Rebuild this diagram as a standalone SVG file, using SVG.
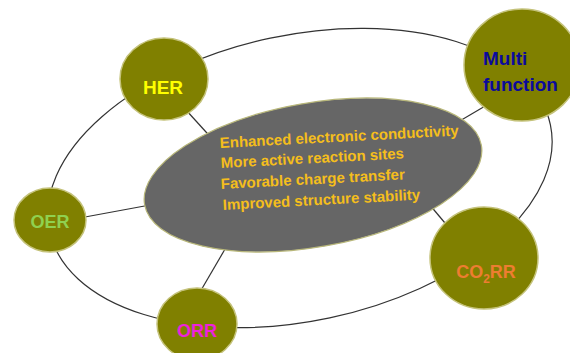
<svg xmlns="http://www.w3.org/2000/svg" width="570" height="353" viewBox="0 0 570 353">
<style>
.node{fill:#808000;stroke:#c4c27a;stroke-width:1.5}
.lbl{font-family:"Liberation Sans",Arial,sans-serif;font-weight:bold}
.line{stroke:#333;stroke-width:1.2;fill:none}
.mid{font-family:"Liberation Sans",Arial,sans-serif;font-weight:bold;font-size:15px;fill:#f5be1c}
</style>
<rect width="570" height="353" fill="#ffffff"/>
<g id="connectors">
<ellipse class="line" cx="300" cy="178" rx="256" ry="143" transform="rotate(-12 300 178)"/>
<line class="line" x1="186" y1="110" x2="216" y2="143"/>
<line class="line" x1="85" y1="217" x2="150" y2="205"/>
<line class="line" x1="200" y1="292" x2="228" y2="244"/>
<line class="line" x1="424" y1="198" x2="450" y2="229"/>
<line class="line" x1="458" y1="122" x2="492" y2="102"/>
</g>
<g id="center">
<ellipse cx="313" cy="175" rx="171" ry="72" transform="rotate(-10 313 175)" fill="#666666" stroke="#b8b77a" stroke-width="1.2"/>
<text class="mid" x="220" y="148" transform="rotate(-3 220 148)">Enhanced electronic conductivity</text>
<text class="mid" x="221" y="168" transform="rotate(-3 221 168)">More active reaction sites</text>
<text class="mid" x="221" y="189" transform="rotate(-3 221 189)">Favorable charge transfer</text>
<text class="mid" x="223" y="210" transform="rotate(-3 223 210)">Improved structure stability</text>
</g>
<g id="HER">
<ellipse class="node" cx="164" cy="79" rx="44" ry="41"/>
<text class="lbl" x="163" y="94" font-size="19" fill="#ffff00" text-anchor="middle">HER</text>
</g>
<g id="Multi">
<ellipse class="node" cx="522" cy="65" rx="58" ry="56"/>
<text class="lbl" x="483" y="65" font-size="19" fill="#0a0a9c">Multi</text>
<text class="lbl" x="483" y="91" font-size="19" fill="#0a0a9c">function</text>
</g>
<g id="OER">
<ellipse class="node" cx="50" cy="220" rx="36" ry="32"/>
<text class="lbl" x="50" y="228" font-size="18" fill="#8fd14f" text-anchor="middle">OER</text>
</g>
<g id="ORR">
<ellipse class="node" cx="197" cy="324" rx="40" ry="36"/>
<text class="lbl" x="197" y="337" font-size="18" fill="#ee22dd" text-anchor="middle">ORR</text>
</g>
<g id="CO2RR">
<ellipse class="node" cx="484" cy="258" rx="54" ry="51"/>
<text class="lbl" x="486" y="278" font-size="18" fill="#ed7d31" text-anchor="middle">CO<tspan font-size="12" dy="5">2</tspan><tspan dy="-5">RR</tspan></text>
</g>
</svg>
